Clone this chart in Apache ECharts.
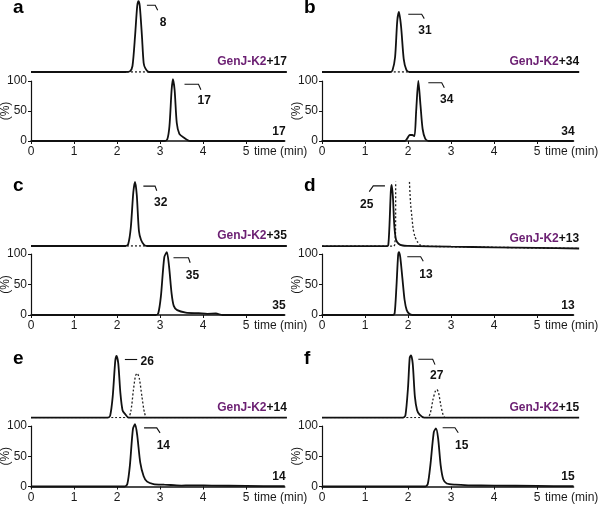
<!DOCTYPE html>
<html>
<head>
<meta charset="utf-8">
<script src="https://cdn.jsdelivr.net/npm/echarts@6/dist/echarts.min.js"></script>
<style>
  html, body { margin: 0; padding: 0; background: #fff; }
  #main { width: 600px; height: 506px; }
</style>
</head>
<body>
<div id="main"></div>
<script>
// axis ticks
var timeTicks = [0, 1, 2, 3, 4, 5];
var pctTicks = [0, 50, 100];

var letters = ['a', 'b', 'c', 'd', 'e', 'f'];
var substrates = ['17', '34', '35', '13', '14', '15'];
var products = ['8', '31', '32', '25', '26', '27'];

// traces: [time (min), relative intensity (%)]
var aRxn = [[0,0],[2.2,0],[2.3,1],[2.36,10],[2.42,60],[2.47,110],[2.5,118],[2.53,110],[2.58,60],[2.62,15],[2.66,6],[2.74,0],[5.95,0]];
var aRxnDot = [[0,0],[5.95,0]];
var aStd = [[0,0],[3.1,0],[3.17,3],[3.22,25],[3.27,85],[3.3,103],[3.34,85],[3.39,30],[3.45,12],[3.55,6],[3.7,0],[5.9,0]];

var bRxn = [[0,0],[1.58,0],[1.64,3],[1.7,25],[1.75,85],[1.79,100],[1.84,75],[1.9,22],[1.96,4],[2.03,0],[5.98,0]];
var bRxnDot = [[0,0],[5.98,0]];
var bStd = [[0,0],[1.93,0],[1.98,4],[2.04,10],[2.1,10],[2.15,8],[2.19,50],[2.24,100],[2.29,60],[2.34,20],[2.4,4],[2.48,0],[5.85,0]];

var cRxn = [[0,0],[2.2,0],[2.26,3],[2.32,30],[2.38,90],[2.42,107],[2.46,85],[2.51,25],[2.56,10],[2.63,2],[2.7,0],[5.95,0]];
var cRxnDot = [[0,0],[5.95,0]];
var cStd = [[0,0],[2.9,0],[2.96,3],[3.02,30],[3.1,95],[3.16,103],[3.21,80],[3.27,35],[3.32,15],[3.4,8],[3.6,4],[3.9,3],[4.1,2],[4.3,2.5],[4.45,0],[5.9,0]];

var dRxn = [[0,3.8],[1.5,3.8],[1.54,5],[1.57,40],[1.6,95],[1.62,106],[1.65,85],[1.68,40],[1.72,15],[1.78,8],[1.88,5],[2,4.5],[3,3],[4,2],[5,1],[5.98,0]];
var dRxnDot = [[0,3.8],[1.66,3.8],[1.69,6],[1.71,30],[1.72,200],[2.02,200],[2.03,120],[2.06,75],[2.09,53],[2.12,33],[2.16,20],[2.22,11],[2.28,6],[2.4,4],[3,3],[4,2],[5,1],[5.98,0]];
var dStd = [[0,0],[1.65,0],[1.69,3],[1.73,45],[1.77,98],[1.79,103],[1.82,95],[1.87,60],[1.92,25],[1.97,8],[2.03,2],[2.1,0],[5.85,0]];

var eRxn = [[0,0],[1.78,0],[1.84,3],[1.9,35],[1.96,95],[1.99,103],[2.03,90],[2.08,40],[2.13,12],[2.19,6],[2.27,0],[5.95,0]];
var eRxnDot = [[0,0],[2.25,0],[2.32,10],[2.38,45],[2.43,70],[2.47,74],[2.52,65],[2.58,35],[2.64,8],[2.7,0],[5.95,0]];
var eStd = [[0,0],[2.18,0],[2.24,4],[2.3,35],[2.37,95],[2.42,103],[2.47,85],[2.54,40],[2.62,17],[2.7,8],[2.85,4],[3.1,3],[3.25,2.5],[3.5,1.5],[3.7,2],[4.2,1.5],[5,1],[5.9,0.5]];

var fRxn = [[0,0],[1.88,0],[1.94,4],[2,50],[2.04,100],[2.07,104],[2.11,90],[2.16,35],[2.21,13],[2.27,5],[2.38,0],[5.98,0]];
var fRxnDot = [[0,0],[2.45,0],[2.52,8],[2.58,30],[2.64,45],[2.67,47],[2.71,42],[2.76,22],[2.82,4],[2.87,0],[5.98,0]];
var fStd = [[0,0],[2.4,0],[2.46,4],[2.52,35],[2.6,90],[2.65,96],[2.7,80],[2.76,35],[2.82,12],[2.9,5],[3.1,3],[3.4,2],[4,1.5],[5,1],[5.85,0.5]];

var rxnData = [aRxn, bRxn, cRxn, dRxn, eRxn, fRxn];
var dotData = [aRxnDot, bRxnDot, cRxnDot, dRxnDot, eRxnDot, fRxnDot];
var stdData = [aStd, bStd, cStd, dStd, eStd, fStd];

// layout (px)
var PX_PER_MIN = 43;
var TOP_H = 66, TOP_MAX = 110;
var FONT = '"Liberation Sans", Arial, sans-serif';
var layout = [
  { left: 31,  xMax: 5.9,  topMax: 5.95, base: 72,    botTop: 81,  botH: 60,   letterY: 7.5 },
  { left: 322, xMax: 5.85, topMax: 5.98, base: 72,    botTop: 81,  botH: 60,   letterY: 7.5 },
  { left: 31,  xMax: 5.9,  topMax: 5.95, base: 246,   botTop: 254, botH: 61,   letterY: 185.5 },
  { left: 322, xMax: 5.85, topMax: 5.98, base: 248.5, botTop: 254, botH: 61,   letterY: 185.5 },
  { left: 31,  xMax: 5.9,  topMax: 5.95, base: 417.7, botTop: 426, botH: 60.5, letterY: 358.5 },
  { left: 322, xMax: 5.85, topMax: 5.98, base: 417.7, botTop: 426, botH: 60.5, letterY: 358.5 }
];
// peak hook offsets from peak top: start, horizontal length, slant, label centre
var hooks = [
  [{ s: [8.4, 4], L: 8.3, k: [2.5, 5], t: [24.7, 21.5] },  { s: [11.6, 5], L: 14, k: [2.4, 5.6], t: [31.3, 21.3] }],
  [{ s: [9.3, 2.3], L: 13.4, k: [2.6, 4.3], t: [26, 18.3] }, { s: [10, 1.7], L: 13.4, k: [2.6, 5], t: [28.4, 19] }],
  [{ s: [8.3, 4.3], L: 11.7, k: [1.7, 4.7], t: [25.7, 20.6] }, { s: [6.6, 5.6], L: 15, k: [1.7, 5], t: [25.6, 24] }],
  [{ s: [-6.7, 1], L: -11.7, k: [-4, 5.7], t: [-25, 19.3] }, { s: [8.3, 4.6], L: 13.4, k: [2.6, 4.4], t: [27, 22.3] }],
  [{ s: [8.3, 3.6], L: 12.3, k: [0, 0], t: [30.6, 5.3] },    { s: [9, 3.7], L: 12.7, k: [3.3, 5], t: [28.3, 21.7] }],
  [{ s: [7.3, 4], L: 14.4, k: [2.3, 5.3], t: [25.7, 20.7] }, { s: [6.7, -0.6], L: 12.3, k: [3.3, 5], t: [25.7, 17.4] }]
];

var chart = echarts.init(document.getElementById('main'), null, { renderer: 'canvas' });

var grids = [], xAxes = [], yAxes = [], series = [];
layout.forEach(function (p, i) {
  // top: reaction trace
  grids.push({ left: p.left, top: p.base - TOP_H, width: p.topMax * PX_PER_MIN, height: TOP_H, outerBoundsMode: 'none', containLabel: false });
  // bottom: standard
  grids.push({ left: p.left, top: p.botTop, width: p.xMax * PX_PER_MIN, height: p.botH, outerBoundsMode: 'none', containLabel: false });

  xAxes.push({ type: 'value', gridIndex: 2 * i, min: 0, max: p.topMax, show: false });
  yAxes.push({ type: 'value', gridIndex: 2 * i, min: 0, max: TOP_MAX, show: false });

  xAxes.push({
    type: 'value', gridIndex: 2 * i + 1, min: 0, max: p.xMax,
    axisLine: { show: true, onZero: false, lineStyle: { color: '#111', width: 1.6 } },
    axisTick: { show: true, length: 3, customValues: timeTicks, lineStyle: { color: '#111', width: 1 } },
    axisLabel: { customValues: timeTicks, fontSize: 12, color: '#1a1a1a', margin: 5, fontFamily: FONT },
    splitLine: { show: false }
  });
  yAxes.push({
    type: 'value', gridIndex: 2 * i + 1, min: 0, max: 100,
    name: '(%)', nameLocation: 'middle', nameGap: 19, nameMoveOverlap: false,
    nameTextStyle: { fontSize: 12, color: '#1a1a1a', fontFamily: FONT },
    axisLine: { show: true, lineStyle: { color: '#111', width: 1.2 } },
    axisTick: { show: true, length: 3, customValues: pctTicks, lineStyle: { color: '#111', width: 1 } },
    axisLabel: { customValues: pctTicks, fontSize: 12, color: '#1a1a1a', margin: 4, fontFamily: FONT },
    splitLine: { show: false }
  });

  series.push({
    type: 'line', xAxisIndex: 2 * i, yAxisIndex: 2 * i, data: dotData[i],
    symbol: 'none', smooth: 0.25, clip: true, silent: true,
    lineStyle: { color: '#222', width: 1.3, type: [2, 2] }
  });
  series.push({
    type: 'line', xAxisIndex: 2 * i, yAxisIndex: 2 * i, data: rxnData[i],
    symbol: 'none', smooth: 0.25, clip: false, silent: true,
    lineStyle: { color: '#111', width: 1.8 }
  });
  series.push({
    type: 'line', xAxisIndex: 2 * i + 1, yAxisIndex: 2 * i + 1, data: stdData[i],
    symbol: 'none', smooth: 0.25, clip: false, silent: true,
    lineStyle: { color: '#111', width: 1.8 }
  });
});

chart.setOption({
  animation: false,
  backgroundColor: '#fff',
  textStyle: { fontFamily: FONT },
  grid: grids, xAxis: xAxes, yAxis: yAxes, series: series
});

function peakOf(arr) {
  var best = arr[0];
  arr.forEach(function (d) { if (d[1] > best[1]) best = d; });
  return best;
}

var graphics = [];
layout.forEach(function (p, i) {
  var topRight = p.left + p.topMax * PX_PER_MIN;
  var botRight = p.left + p.xMax * PX_PER_MIN;
  var zero = p.botTop + p.botH;

  graphics.push({
    type: 'text', x: p.left - 18, y: p.letterY,
    style: { text: letters[i], font: 'bold 19px ' + FONT, fill: '#000', textAlign: 'left', textVerticalAlign: 'middle' }
  });
  graphics.push({
    type: 'text', x: topRight, y: p.base - 10,
    style: {
      text: '{p|GenJ-K2}{k|+' + substrates[i] + '}', textAlign: 'right', textVerticalAlign: 'middle',
      rich: {
        p: { font: 'bold 12px ' + FONT, fill: '#6b1f72' },
        k: { font: 'bold 12px ' + FONT, fill: '#111' }
      }
    }
  });
  graphics.push({
    type: 'text', x: botRight + 1, y: zero - 9.5,
    style: { text: substrates[i], font: 'bold 12px ' + FONT, fill: '#111', textAlign: 'right', textVerticalAlign: 'middle' }
  });
  var five = chart.convertToPixel({ xAxisIndex: 2 * i + 1 }, 5);
  graphics.push({
    type: 'text', x: five + 8, y: zero + 5,
    style: { text: 'time (min)', font: '12px ' + FONT, fill: '#1a1a1a', textAlign: 'left', textVerticalAlign: 'top' }
  });

  [[3 * i + 1, rxnData[i], products[i], hooks[i][0]], [3 * i + 2, stdData[i], substrates[i], hooks[i][1]]].forEach(function (h) {
    var pk = chart.convertToPixel({ seriesIndex: h[0] }, peakOf(h[1]));
    var o = h[3];
    var x0 = pk[0] + o.s[0], y0 = pk[1] + o.s[1];
    var x1 = x0 + o.L;
    graphics.push({
      type: 'polyline', shape: { points: [[x0, y0], [x1, y0], [x1 + o.k[0], y0 + o.k[1]]] },
      style: { stroke: '#111', lineWidth: 1.1, fill: null }
    });
    graphics.push({
      type: 'text', x: pk[0] + o.t[0], y: pk[1] + o.t[1],
      style: { text: h[2], font: 'bold 12px ' + FONT, fill: '#111', textAlign: 'center', textVerticalAlign: 'middle' }
    });
  });
});

chart.setOption({ graphic: graphics });
</script>
</body>
</html>
